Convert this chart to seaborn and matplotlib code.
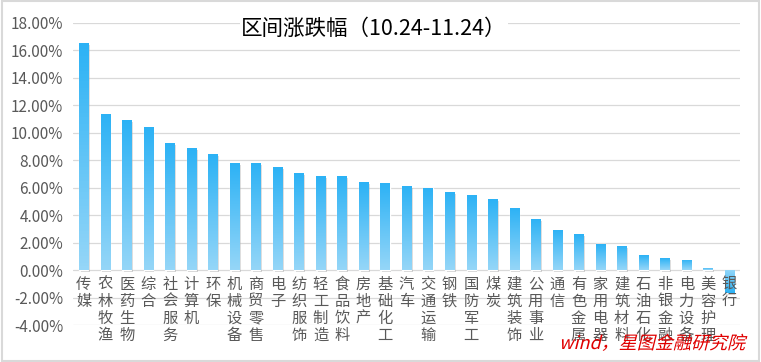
import numpy as np
import pandas as pd
import matplotlib
matplotlib.use('Agg')
import matplotlib.pyplot as plt
import matplotlib.patheffects as pe
from matplotlib.colors import LinearSegmentedColormap
from matplotlib.patches import Rectangle, PathPatch
from matplotlib.textpath import TextPath
from matplotlib.font_manager import FontProperties
from matplotlib.transforms import Affine2D
import seaborn as sns

# data (% change)
industries = ['传媒', '农林牧渔', '医药生物', '综合', '社会服务', '计算机', '环保',
              '机械设备', '商贸零售', '电子', '纺织服饰', '轻工制造', '食品饮料',
              '房地产', '基础化工', '汽车', '交通运输', '钢铁', '国防军工', '煤炭',
              '建筑装饰', '公用事业', '通信', '有色金属', '家用电器', '建筑材料',
              '石油石化', '非银金融', '电力设备', '美容护理', '银行']
changes = [16.55, 11.37, 10.93, 10.42, 9.26, 8.89, 8.45, 7.80, 7.80, 7.50,
           7.07, 6.85, 6.85, 6.41, 6.34, 6.12, 5.98, 5.69, 5.47, 5.17,
           4.52, 3.72, 2.92, 2.62, 1.89, 1.75, 1.09, 0.87, 0.73, 0.15, -1.68]
yticks = list(range(-4, 19, 2))
title = '区间涨跌幅（10.24-11.24）'
source = 'wind，星图金融研究院'

sns.set_style('white')
plt.rcParams['font.family'] = ['Noto Sans CJK SC', 'DejaVu Sans']

df = pd.DataFrame({'industry': industries, 'change': changes})
# vertical labels: one character per line
df['label'] = df['industry'].apply(lambda s: '\n'.join(s))

fig = plt.figure(figsize=(7.61, 3.62), dpi=100)
ax = fig.add_axes([73/761, 1 - 325/362, 667/761, 302/362])
sns.barplot(data=df, x='label', y='change', width=0.42, color='#30b4f5', ax=ax)

# gradient fill + soft shadow on each bar
cmap = LinearSegmentedColormap.from_list('bar', ['#95d6f8', '#2cb2f5'])
grad = np.linspace(0, 1, 64).reshape(-1, 1)
for p in list(ax.patches):
    x0, w, h = p.get_x(), p.get_width(), p.get_height()
    p.set_path_effects([pe.SimplePatchShadow(offset=(1.2, -1.2), shadow_rgbFace='#8a8a8a', alpha=0.35),
                        pe.Normal()])
    im = ax.imshow(grad, cmap=cmap, extent=[x0, x0 + w, 0, h], origin='lower',
                   aspect='auto', zorder=p.get_zorder() + 0.1)
    im.set_clip_path(p)

ax.set_xlim(-0.5, len(industries) - 0.5)
ax.set_ylim(-4, 18)
ax.set_yticks(yticks)
ax.set_yticklabels([f'{v:.2f}%' for v in yticks])
ax.set_xlabel('')
ax.set_ylabel('')

ax.yaxis.grid(True, color='#d9d9d9', lw=0.9)
ax.set_axisbelow(True)
ax.xaxis.set_zorder(5)  # category labels drawn over the negative bar
for s in ['top', 'right', 'left']:
    ax.spines[s].set_visible(False)
ax.spines['bottom'].set_position(('data', 0))
ax.spines['bottom'].set_visible(False)

ax.tick_params(axis='y', length=0, pad=7, labelsize=11, labelcolor='#595959')
ax.tick_params(axis='x', length=0, pad=4, labelsize=11, labelcolor='#595959')
for t in ax.get_xticklabels():
    t.set_linespacing(1.0)

fig.text(374/761, 1 - 29/362, title, ha='center', va='center', fontsize=15.5,
         color='black', bbox=dict(fc='white', ec='none', pad=1))

# watermark, slanted
fp = FontProperties(family='Noto Sans CJK SC', size=13)
tp = TextPath((0, 0), source, prop=fp)
tr = Affine2D().skew_deg(14, 0).scale(fig.dpi / 72).translate(559, 362 - 349)
fig.add_artist(PathPatch(tp, transform=tr, fc='#e00000', ec='none'))

fig.patches.append(Rectangle((0.002, 0.003), 0.996, 0.994, transform=fig.transFigure,
                             fill=False, ec='#d9d9d9', lw=1.5))

fig.savefig('out.png', dpi=100)
